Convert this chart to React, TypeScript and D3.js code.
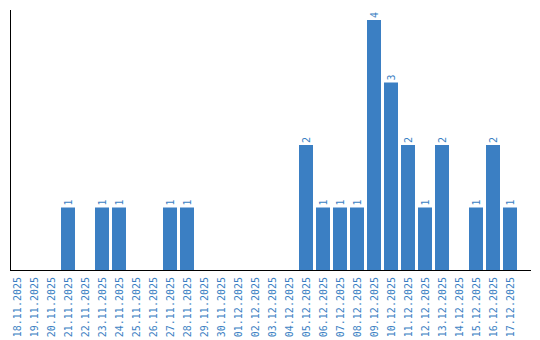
import React from "react";
import * as d3 from "d3";

const dates = [
  "18.11.2025","19.11.2025","20.11.2025","21.11.2025","22.11.2025","23.11.2025",
  "24.11.2025","25.11.2025","26.11.2025","27.11.2025","28.11.2025","29.11.2025",
  "30.11.2025","01.12.2025","02.12.2025","03.12.2025","04.12.2025","05.12.2025",
  "06.12.2025","07.12.2025","08.12.2025","09.12.2025","10.12.2025","11.12.2025",
  "12.12.2025","13.12.2025","14.12.2025","15.12.2025","16.12.2025","17.12.2025",
];
const counts = [0,0,0,1,0,1,1,0,0,1,1,0,0,0,0,0,0,2,1,1,1,4,3,2,1,2,0,1,2,1];

const W = 540, H = 340;
const left = 10, baseline = 270, top = 10, axisRight = 531;
const BLUE = "#3b7fc3";
const FONT = "'DejaVu Sans Mono', monospace";

export default function App() {
  const x = d3.scaleBand<string>().domain(dates).range([left, left + 17 * dates.length - 3]).paddingInner(3 / 17).paddingOuter(0);
  const y = d3.scaleLinear().domain([0, 4]).range([baseline, 20]);
  const bw = x.bandwidth();
  return (
    <svg width={W} height={H} style={{ position: "absolute", left: 0, top: 0 }}>
      <rect width={W} height={H} fill="#fff" />
      {dates.map((d, i) => {
        const v = counts[i];
        const cx = (x(d) as number) + bw / 2;
        return (
          <g key={d}>
            {v > 0 && (
              <rect x={x(d)} y={y(v)} width={bw} height={baseline - y(v)} fill={BLUE} />
            )}
            {v > 0 && (
              <text
                transform={`translate(${cx + 3.5},${y(v) - 2}) rotate(-90)`}
                fontFamily={FONT}
                fontSize={10}
                fill={BLUE}
              >
                {v}
              </text>
            )}
            <text
              transform={`translate(${cx + 3.5},${baseline + 7}) rotate(-90)`}
              textAnchor="end"
              fontFamily={FONT}
              fontSize={10}
              fill={BLUE}
            >
              {d}
            </text>
          </g>
        );
      })}
      <line x1={left + 0.5} x2={left + 0.5} y1={top} y2={baseline} stroke="#000" strokeWidth={1} />
      <line x1={left} x2={axisRight} y1={baseline + 0.5} y2={baseline + 0.5} stroke="#000" strokeWidth={1.2} />
    </svg>
  );
}
